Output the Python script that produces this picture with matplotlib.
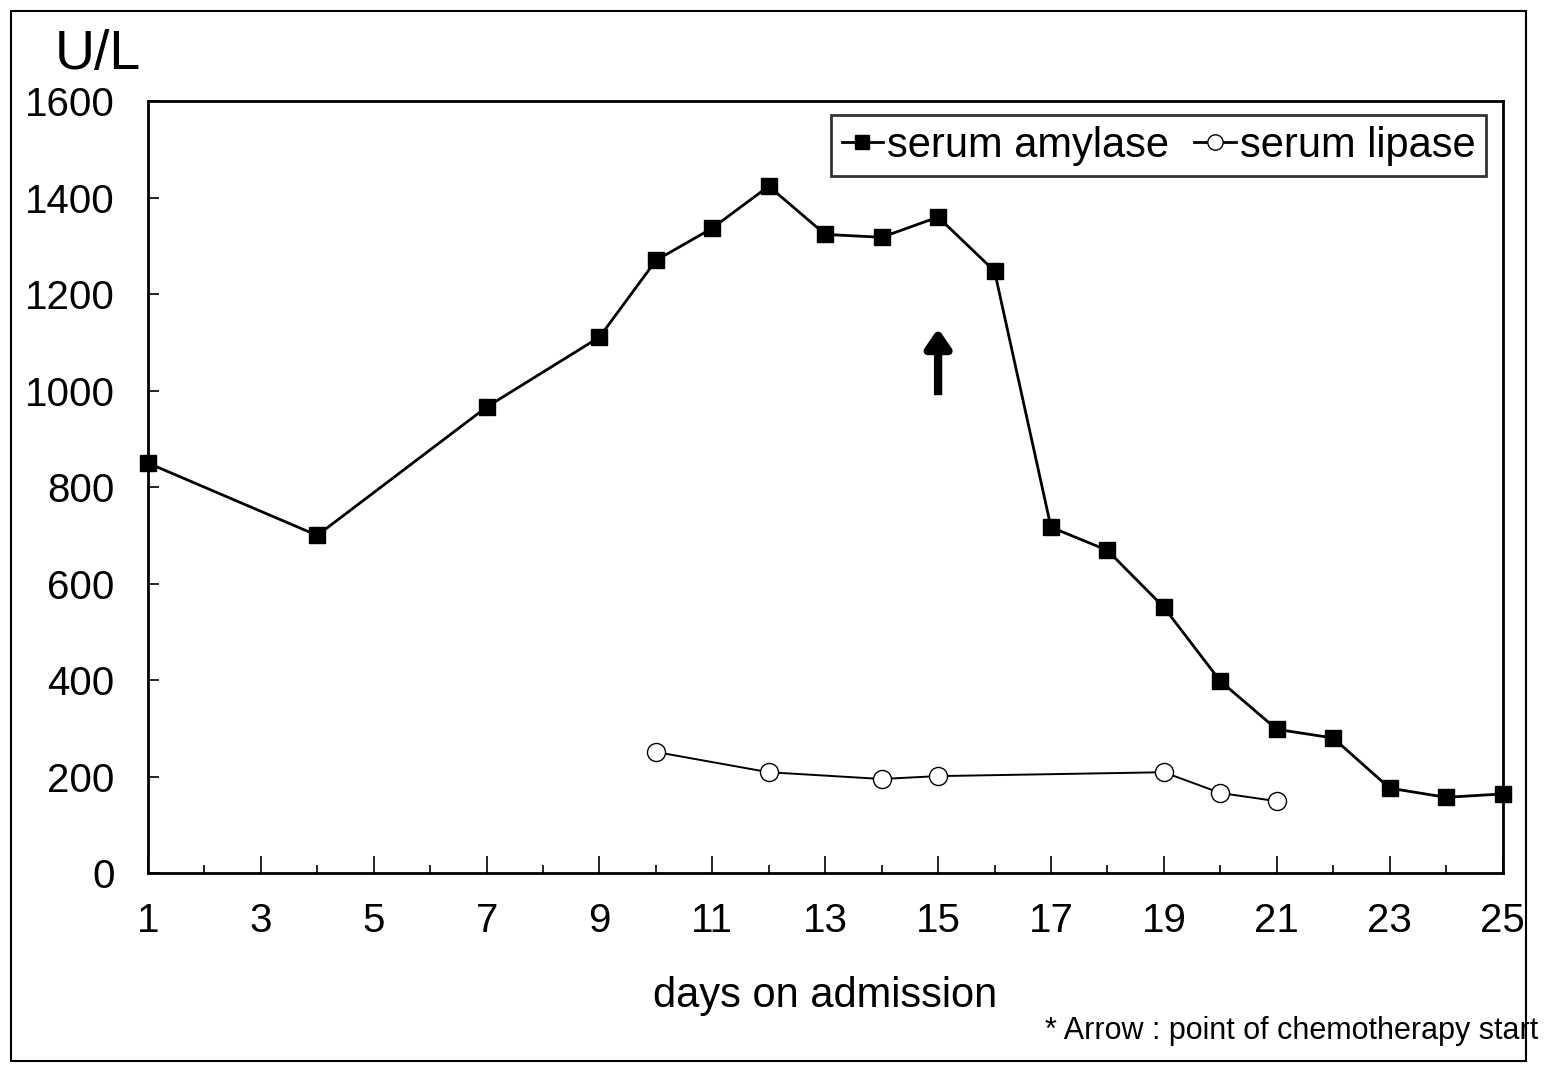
import matplotlib.pyplot as plt
from matplotlib.patches import Rectangle

plt.rcParams['font.family'] = ['Liberation Sans', 'DejaVu Sans']

amylase_days = [1, 4, 7, 9, 10, 11, 12, 13, 14, 15, 16, 17, 18, 19, 20, 21, 22, 23, 24, 25]
amylase = [850, 700, 966, 1111, 1270, 1337, 1424, 1324, 1318, 1360, 1248,
           717, 669, 551, 398, 298, 280, 176, 157, 164]
lipase_days = [10, 12, 14, 15, 19, 20, 21]
lipase = [251, 209, 195, 201, 209, 166, 149]
chemo_day = 15

fig = plt.figure(figsize=(15.57, 10.66), dpi=100)
ax = fig.add_axes([0.095, 0.181, 0.870, 0.724])

ax.plot(amylase_days, amylase, color='black', lw=2.0, marker='s', ms=12,
        mfc='black', mec='black', label='serum amylase', clip_on=False, zorder=3)
ax.plot(lipase_days, lipase, color='black', lw=1.4, marker='o', ms=13,
        mfc='white', mec='black', mew=1.0, label='serum lipase', zorder=3)

ax.annotate('', xy=(chemo_day, 1135), xytext=(chemo_day, 985),
            arrowprops=dict(arrowstyle='-|>,head_width=0.75,head_length=1.1',
                            lw=6, color='black', capstyle='butt'))

ax.set_xlim(1, 25)
ax.set_ylim(0, 1600)
ax.set_xticks(range(1, 26, 2))
ax.set_xticks(range(2, 26, 2), minor=True)
ax.set_yticks(range(0, 1601, 200))
ax.tick_params(axis='both', which='major', direction='in', length=12, width=1.2,
               labelsize=29)
ax.tick_params(axis='x', which='major', pad=21)
ax.tick_params(axis='y', which='major', length=8, pad=24)
ax.tick_params(axis='x', which='minor', direction='in', length=6, width=1.2)
for s in ax.spines.values():
    s.set_linewidth(2)

ax.set_xlabel('days on admission', fontsize=30, labelpad=26)
fig.text(0.035, 0.935, 'U/L', fontsize=40)
fig.text(0.988, 0.025, '* Arrow : point of chemotherapy start', fontsize=22,
         ha='right')

leg = ax.legend(loc='upper right', ncol=2, fontsize=30, frameon=True,
                fancybox=False, edgecolor='black', handlelength=1.0,
                handletextpad=0.1, columnspacing=0.6, borderpad=0.25,
                markerscale=0.85, borderaxespad=0, bbox_to_anchor=(0.988, 0.982))
leg.get_frame().set_linewidth(2)
for h in leg.legend_handles:
    h.set_linewidth(2)

fig.patches.append(Rectangle((0.007, 0.005), 0.973, 0.985, transform=fig.transFigure,
                             fill=False, lw=1.5, edgecolor='black'))

fig.savefig('out.png', dpi=100)
